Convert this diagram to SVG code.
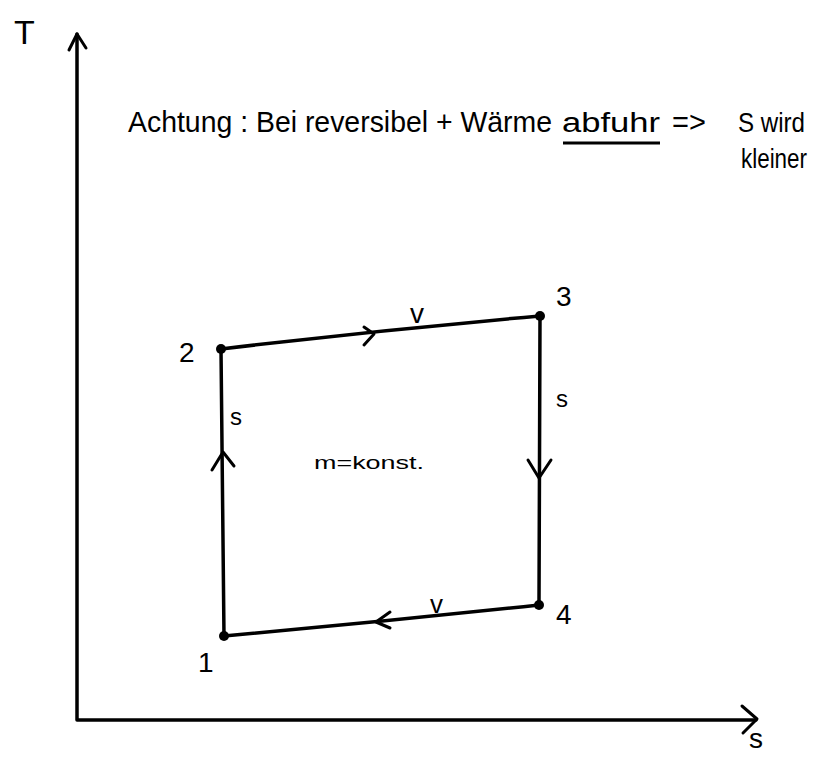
<svg xmlns="http://www.w3.org/2000/svg" width="834" height="758" viewBox="0 0 834 758">
<style>
.t{font-family:"Liberation Sans","DejaVu Sans",sans-serif;fill:#000}
.ln{fill:none;stroke:#000;stroke-width:3.5;stroke-linecap:round;stroke-linejoin:round}
.ah{fill:none;stroke:#000;stroke-width:3;stroke-linecap:round;stroke-linejoin:round}
</style>
<rect width="834" height="758" fill="#fff"/>
<g id="axes">
<path class="ln" d="M77,34 L77,720 L756,720"/>
<path class="ah" d="M69,50 L77,34 L86,48"/>
<path class="ah" d="M742,706 L757,719 L743,733"/>
<text class="t" x="14" y="44" font-size="34">T</text>
<text class="t" x="749" y="748" font-size="28">s</text>
</g>
<g id="note">
<text class="t" x="128" y="132" font-size="29" textLength="424" lengthAdjust="spacingAndGlyphs">Achtung : Bei reversibel + Wärme</text>
<text class="t" x="562" y="132" font-size="27" textLength="98" lengthAdjust="spacingAndGlyphs">abfuhr</text>
<line x1="563" y1="143" x2="660" y2="143" stroke="#000" stroke-width="3"/>
<text class="t" x="672" y="132" font-size="29">=&gt;</text>
<text class="t" x="738" y="132" font-size="27" textLength="67" lengthAdjust="spacingAndGlyphs">S wird</text>
<text class="t" x="741" y="168" font-size="27" textLength="66" lengthAdjust="spacingAndGlyphs">kleiner</text>
</g>
<g id="connectors">
<path class="ln" d="M224,636 L221,349"/>
<path class="ah" d="M212,470 L223,452 L234,466"/>
<path class="ln" d="M221,349 Q380,330 540,316"/>
<path class="ah" d="M364,327 L374,334 L364,345"/>
<path class="ln" d="M540,316 L539,605"/>
<path class="ah" d="M528,460 L539,478 L551,460"/>
<path class="ln" d="M539,605 Q380,622 224,636" stroke-width="2.5"/>
<path class="ah" d="M390,612 L376,622 L390,628"/>
<text class="t" x="410" y="323" font-size="28">v</text>
<text class="t" x="230" y="425" font-size="24">s</text>
<text class="t" x="556" y="407" font-size="24">s</text>
<text class="t" x="430" y="613" font-size="26">v</text>
</g>
<g id="n1"><circle cx="224" cy="636" r="5"/><text class="t" x="198" y="672" font-size="28">1</text></g>
<g id="n2"><circle cx="221" cy="349" r="5"/><text class="t" x="179" y="362" font-size="28">2</text></g>
<g id="n3"><circle cx="540" cy="316" r="5"/><text class="t" x="556" y="306" font-size="28">3</text></g>
<g id="n4"><circle cx="539" cy="605" r="5"/><text class="t" x="556" y="624" font-size="28">4</text></g>
<g id="label"><text class="t" x="314" y="469" font-size="18" textLength="110" lengthAdjust="spacingAndGlyphs">m=konst.</text></g>
</svg>
